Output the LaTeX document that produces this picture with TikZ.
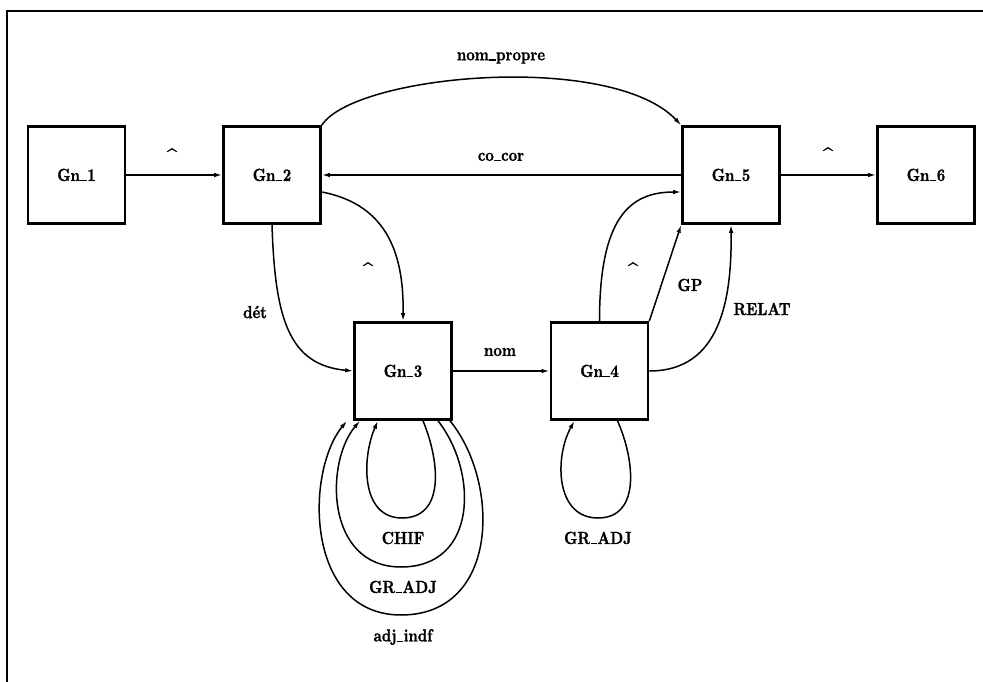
\documentclass[tikz,border=0pt]{standalone}
\usepackage{fontspec}
\newfontfamily\lbf{lmroman10-bold.otf}[FakeBold=1.2,FakeStretch=0.84]
\usetikzlibrary{arrows.meta}
\newcommand\us{\kern0.03em\rule[-0.02em]{0.36em}{0.07em}\kern0.03em}
\newcommand\crt{{\fontsize{21}{21}\selectfont\textasciicircum}}
\begin{document}
\begin{tikzpicture}[x=1pt,y=-1pt,
  box/.style={draw,line width=2.6pt,minimum size=97pt,inner sep=0pt,font=\fontsize{17.5}{20}\lbf},
  lbl/.style={inner sep=0pt,font=\fontsize{17.5}{20}\lbf},
  edge/.style={line width=1.5pt,-{Latex[length=8pt,width=4.5pt]}}]
\useasboundingbox (0,0) rectangle (983,682);
% frame (top and left edges)
\draw[line width=2.6pt] (983,11) -- (7,11) -- (7,682);
% nodes
\node[box] (g1) at (76.5,175) {Gn\us 1};
\node[box] (g2) at (272,175) {Gn\us 2};
\node[box] (g5) at (731,175) {Gn\us 5};
\node[box] (g6) at (926,175) {Gn\us 6};
\node[box] (g3) at (403,371) {Gn\us 3};
\node[box] (g4) at (599.5,371) {Gn\us 4};
% straight edges
\draw[edge] (g1.east) -- (g2.west);
\draw[edge] (g5.east) -- (g6.west);
\draw[edge] (g5.west) -- (g2.east);
\draw[edge] (g3.east) -- (g4.west);
% curved edges
\draw[edge] (g2.north east) .. controls +(33,-51) and +(-70,-74) .. (g5.north west);
\draw[edge] ([yshift=-17pt]g2.east) .. controls +(68,13) and +(1,-63) .. (g3.north);
\draw[edge] (g2.south) .. controls +(3,95) and +(-64,-6) .. (g3.west);
\draw[edge] (g4.north) .. controls +(0,-103) and +(-52,0) .. ([yshift=-17pt]g5.west);
\draw[edge] (g4.north east) -- (g5.south west);
\draw[edge] (g4.east) .. controls +(71,0) and +(1,75) .. (g5.south);
% loops on Gn_3
\draw[edge] ([xshift=20pt]g3.south) .. controls +(17,41) and +(43,0) .. (402,518)
   .. controls +(-42,0) and +(-16,36) .. ([xshift=-25pt]g3.south);
\draw[edge] ([xshift=35pt]g3.south) .. controls +(40,51) and +(77,0) .. (401,567)
   .. controls +(-76,0) and +(-35,41) .. ([xshift=-43pt]g3.south);
\draw[edge] ([xshift=47pt]g3.south) .. controls +(50,61) and +(99,0) .. (401,615)
   .. controls +(-96,0) and +(-42,51) .. ([xshift=-56pt]g3.south);
% loop on Gn_4
\draw[edge] ([xshift=18pt]g4.south) .. controls +(18,41) and +(42,0) .. (598,518)
   .. controls +(-43,0) and +(-20,36) .. ([xshift=-25pt]g4.south);
% labels
\node[lbl] (l1) at (172,156) {\crt};
\node[lbl] (l2) at (828,155) {\crt};
\node[lbl] (l3) at (501,58) {nom\us propre};
\node[lbl] (l4) at (501,157) {co\us cor};
\node[lbl] (l5) at (368,270) {\crt};
\node[lbl] (l6) at (255,312) {dét};
\node[lbl] (l7) at (500,352) {nom};
\node[lbl] (l8) at (633,270) {\crt};
\node[lbl] (l9) at (690,285) {GP};
\node[lbl] (l10) at (762,309) {RELAT};
\node[lbl] (l11) at (403,538) {CHIF};
\node[lbl] (l12) at (403,587) {GR\us ADJ};
\node[lbl] (l13) at (403,637) {adj\us indf};
\node[lbl] (l14) at (598,538) {GR\us ADJ};
\end{tikzpicture}
\end{document}
